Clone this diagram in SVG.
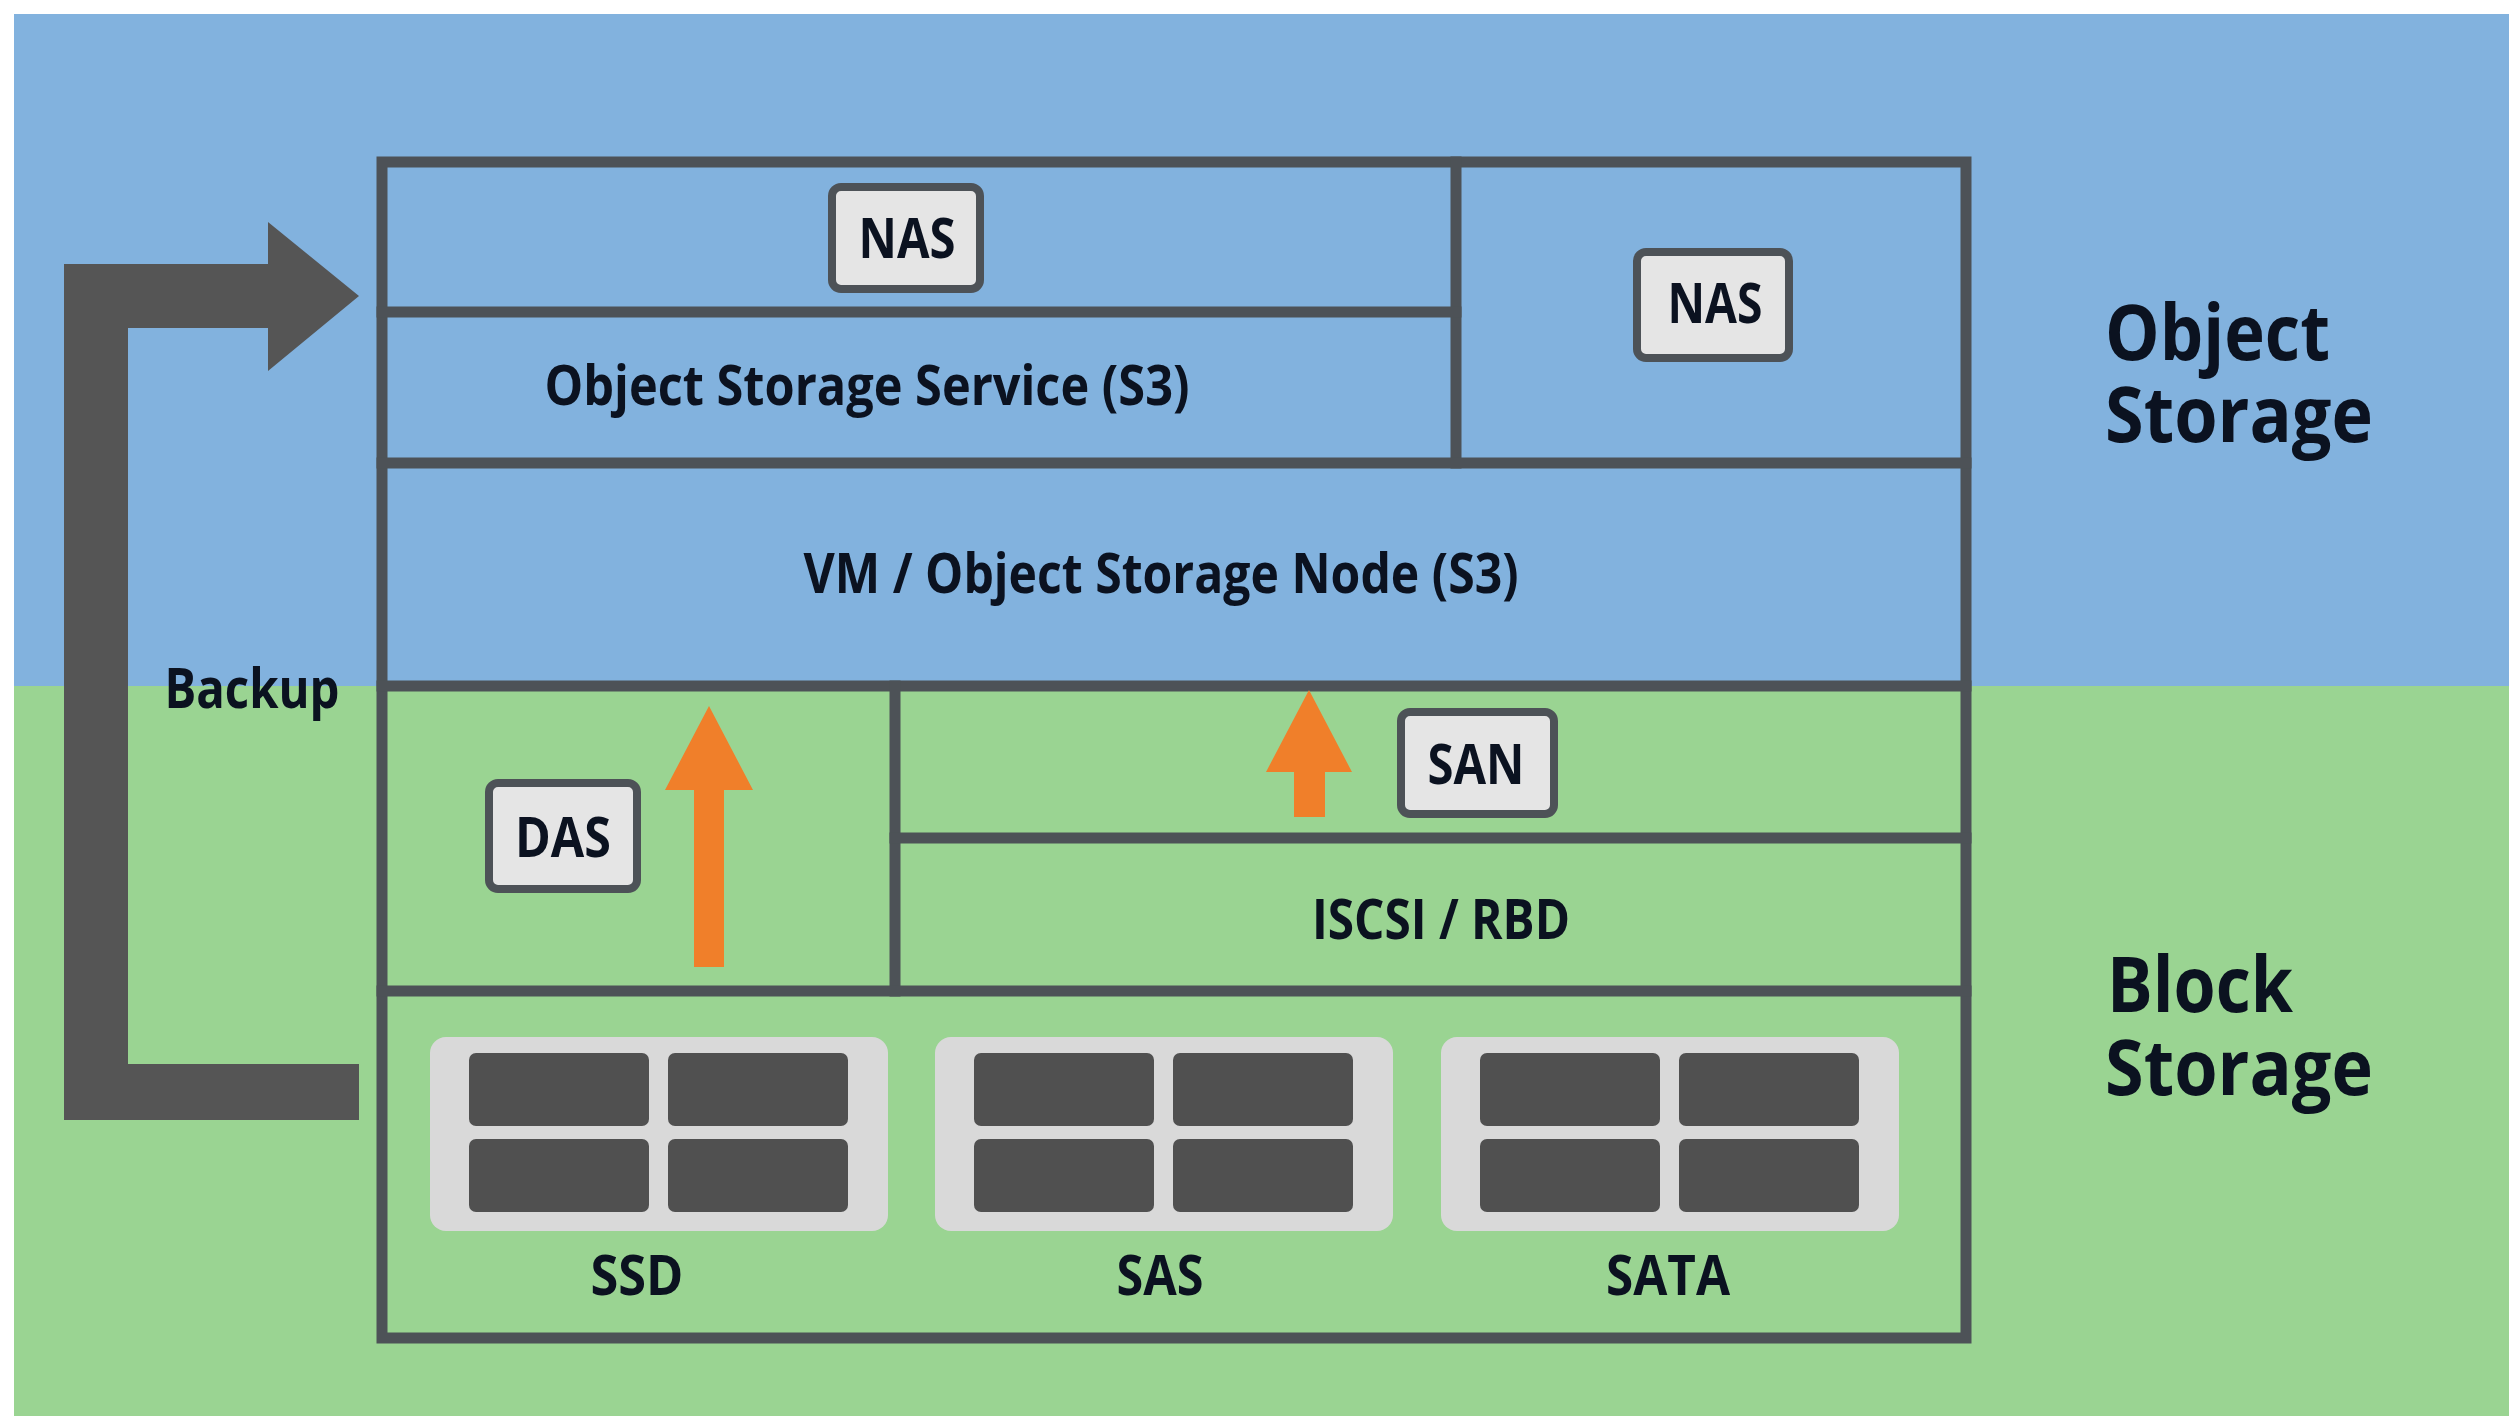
<svg xmlns="http://www.w3.org/2000/svg" width="2509" height="1416" viewBox="0 0 2509 1416">
  <style>
    .line { stroke: #4d5257; stroke-width: 11; fill: none; stroke-linecap: square; }
    .tag { fill: #e5e5e5; stroke: #4d5257; stroke-width: 8; }
    .t { font-family: "Open Sans", "Noto Sans", "DejaVu Sans", sans-serif; font-weight: 700; fill: #0b1220; text-anchor: middle; }
    .m { font-size: 55px; }
    .big { font-size: 77px; text-anchor: start; }
    .tray { fill: #d9d9d9; }
    .blk { fill: #505050; }
    .orange { fill: #f07f2a; }
    .backup { fill: #555555; }
  </style>
  <defs>
    <g id="drive">
      <rect class="tray" x="0" y="0" width="458" height="194" rx="16"/>
      <rect class="blk" x="39" y="16" width="180" height="73" rx="7"/>
      <rect class="blk" x="238" y="16" width="180" height="73" rx="7"/>
      <rect class="blk" x="39" y="102" width="180" height="73" rx="7"/>
      <rect class="blk" x="238" y="102" width="180" height="73" rx="7"/>
    </g>
  </defs>

  <rect x="0" y="0" width="2509" height="1416" fill="#ffffff"/>
  <rect id="bg-object" x="14" y="14" width="2495" height="672" fill="#82b2de"/>
  <rect id="bg-block" x="14" y="686" width="2495" height="730" fill="#9ad492"/>

  <g id="frame">
    <rect class="line" x="382" y="162" width="1584" height="1176"/>
    <line class="line" x1="1456" y1="162" x2="1456" y2="463"/>
    <line class="line" x1="382" y1="312" x2="1456" y2="312"/>
    <line class="line" x1="382" y1="463" x2="1966" y2="463"/>
    <line class="line" x1="382" y1="686" x2="1966" y2="686"/>
    <line class="line" x1="895" y1="686" x2="895" y2="991"/>
    <line class="line" x1="895" y1="838" x2="1966" y2="838"/>
    <line class="line" x1="382" y1="991" x2="1966" y2="991"/>
  </g>

  <g id="nas-top">
    <rect class="tag" x="832" y="187" width="148" height="102" rx="9"/>
    <text class="t m" x="907" y="258" textLength="97" lengthAdjust="spacingAndGlyphs">NAS</text>
  </g>
  <g id="object-storage-service">
    <text class="t m" x="867" y="405" textLength="645" lengthAdjust="spacingAndGlyphs">Object Storage Service (S3)</text>
  </g>
  <g id="nas-right">
    <rect class="tag" x="1637" y="252" width="152" height="106" rx="9"/>
    <text class="t m" x="1715" y="323" textLength="95" lengthAdjust="spacingAndGlyphs">NAS</text>
  </g>
  <g id="vm-node">
    <text class="t m" x="1161" y="593" textLength="715" lengthAdjust="spacingAndGlyphs">VM / Object Storage Node (S3)</text>
  </g>
  <g id="das">
    <rect class="tag" x="489" y="783" width="148" height="106" rx="9"/>
    <text class="t m" x="563" y="857" textLength="96" lengthAdjust="spacingAndGlyphs">DAS</text>
  </g>
  <g id="san">
    <rect class="tag" x="1401" y="712" width="153" height="102" rx="9"/>
    <text class="t m" x="1476" y="784" textLength="97" lengthAdjust="spacingAndGlyphs">SAN</text>
  </g>
  <g id="iscsi-rbd">
    <text class="t m" x="1441" y="939" textLength="258" lengthAdjust="spacingAndGlyphs">ISCSI / RBD</text>
  </g>

  <g id="ssd">
    <use href="#drive" x="430" y="1037"/>
    <text class="t m" x="637" y="1295" textLength="93" lengthAdjust="spacingAndGlyphs">SSD</text>
  </g>
  <g id="sas">
    <use href="#drive" x="935" y="1037"/>
    <text class="t m" x="1160" y="1295" textLength="87" lengthAdjust="spacingAndGlyphs">SAS</text>
  </g>
  <g id="sata">
    <use href="#drive" x="1441" y="1037"/>
    <text class="t m" x="1668" y="1295" textLength="124" lengthAdjust="spacingAndGlyphs">SATA</text>
  </g>

  <g id="connectors">
    <path class="backup" d="M64,264 L268,264 L268,222 L359,296 L268,371 L268,328 L128,328 L128,1064 L359,1064 L359,1120 L64,1120 Z"/>
    <path class="orange" d="M709,706 L753,790 L724,790 L724,967 L694,967 L694,790 L665,790 Z"/>
    <path class="orange" d="M1309,690 L1352,772 L1325,772 L1325,817 L1294,817 L1294,772 L1266,772 Z"/>
  </g>
  <g id="backup-label">
    <text class="t m" x="252" y="708" textLength="175" lengthAdjust="spacingAndGlyphs">Backup</text>
  </g>

  <g id="object-storage-label">
    <text class="t big"><tspan x="2105" y="360" textLength="225" lengthAdjust="spacingAndGlyphs">Object</tspan><tspan x="2105" y="442" textLength="268" lengthAdjust="spacingAndGlyphs">Storage</tspan></text>
  </g>
  <g id="block-storage-label">
    <text class="t big"><tspan x="2107" y="1012" textLength="186" lengthAdjust="spacingAndGlyphs">Block</tspan><tspan x="2105" y="1095" textLength="268" lengthAdjust="spacingAndGlyphs">Storage</tspan></text>
  </g>
</svg>
